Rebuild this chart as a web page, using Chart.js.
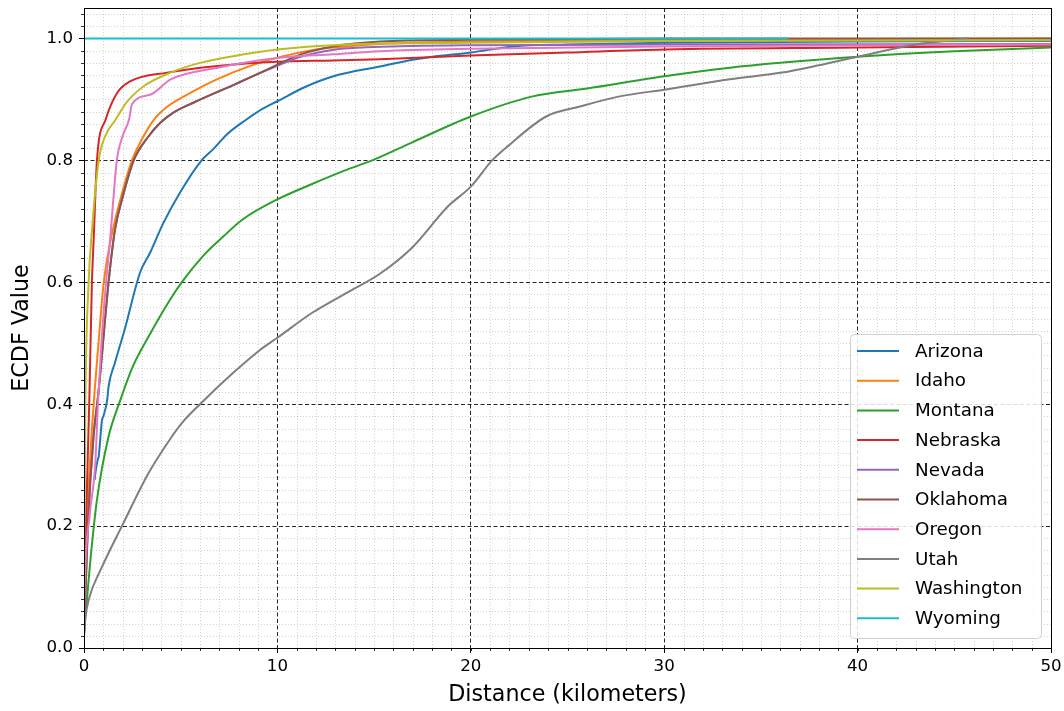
<!DOCTYPE html>
<html>
<head>
<meta charset="utf-8">
<script src="https://cdn.jsdelivr.net/npm/chart.js@4.4.0/dist/chart.umd.min.js"></script>
<style>
  html, body { margin: 0; padding: 0; background: #fff; }
</style>
</head>
<body>
<canvas id="ecdf" width="1064" height="711"></canvas>
<script>
// ECDF of distances per state
var states = ['Arizona', 'Idaho', 'Montana', 'Nebraska', 'Nevada', 'Oklahoma', 'Oregon', 'Utah', 'Washington', 'Wyoming'];
var colors = ['#1f77b4', '#ff7f0e', '#2ca02c', '#d62728', '#9467bd', '#8c564b', '#e377c2', '#7f7f7f', '#bcbd22', '#17becf'];

var arizonaX = [0.55, 0.6, 0.72, 0.76, 0.93, 1.0, 1.2, 1.27, 1.6, 2.1, 2.9, 3.41, 4.1, 4.96, 6.08, 6.67, 7.4, 8.4, 9.2, 10, 11.4, 12.9, 15.3, 17, 18, 20, 22.2, 25, 30, 40, 50];
var arizonaY = [0.276, 0.29, 0.31, 0.314, 0.374, 0.38, 0.407, 0.429, 0.468, 0.522, 0.616, 0.648, 0.697, 0.747, 0.80, 0.818, 0.843, 0.867, 0.884, 0.897, 0.92, 0.938, 0.954, 0.965, 0.97, 0.977, 0.987, 0.99, 0.993, 0.995, 0.996];

var idahoX = [0, 0.1, 0.3, 0.5, 0.75, 1.02, 1.45, 2.0, 2.48, 3.0, 3.62, 4.3, 5.17, 6.87, 8.6, 10.3, 12, 13.6, 16, 20, 30, 50];
var idahoY = [0.03, 0.15, 0.3, 0.4, 0.5, 0.6, 0.68, 0.75, 0.80, 0.835, 0.867, 0.888, 0.905, 0.933, 0.955, 0.971, 0.982, 0.987, 0.992, 0.995, 0.998, 1.0];

var montanaX = [0, 0.07, 0.33, 0.67, 1.27, 1.86, 2.5, 3.34, 4.44, 5.05, 6.15, 7.2, 8.2, 10, 11.7, 13.7, 14.9, 17, 20, 23.2, 26, 30, 33.4, 36, 40, 45, 50];
var montanaY = [0.02, 0.05, 0.144, 0.243, 0.347, 0.405, 0.46, 0.511, 0.571, 0.60, 0.643, 0.675, 0.703, 0.736, 0.76, 0.786, 0.80, 0.83, 0.872, 0.905, 0.918, 0.938, 0.952, 0.96, 0.97, 0.979, 0.985];

var nebraskaX = [0, 0.1, 0.27, 0.41, 0.5, 0.67, 1.12, 1.72, 2.41, 4.3, 6.9, 10, 12.9, 15.3, 20, 25, 30, 40, 50];
var nebraskaY = [0.02, 0.2, 0.4, 0.6, 0.67, 0.80, 0.867, 0.911, 0.93, 0.944, 0.955, 0.962, 0.964, 0.966, 0.972, 0.977, 0.982, 0.985, 0.988];

var nevadaX = [0, 0.2, 0.5, 0.75, 1.27, 1.6, 2.0, 2.57, 3.3, 3.96, 4.6, 5.68, 7.75, 9.46, 11.2, 13, 15, 20, 30, 50];
var nevadaY = [0.02, 0.2, 0.35, 0.42, 0.6, 0.686, 0.74, 0.80, 0.838, 0.862, 0.878, 0.895, 0.924, 0.948, 0.97, 0.982, 0.986, 0.989, 0.99, 0.991];

var oklahomaX = [0, 0.2, 0.5, 0.75, 1.27, 1.6, 2.0, 2.57, 3.3, 3.96, 4.6, 5.68, 7.75, 9.46, 11.2, 12.9, 15.3, 20, 30, 50];
var oklahomaY = [0.02, 0.2, 0.35, 0.42, 0.6, 0.686, 0.74, 0.80, 0.838, 0.862, 0.878, 0.895, 0.924, 0.949, 0.974, 0.987, 0.995, 0.998, 1.0, 1.0];

var oregonX = [0, 0.03, 0.3, 0.58, 0.72, 0.9, 1.14, 1.35, 1.7, 2.0, 2.33, 2.48, 3.45, 4.48, 6.9, 10, 12.9, 15.3, 20, 30, 50];
var oregonY = [0.05, 0.1, 0.22, 0.30, 0.40, 0.5, 0.6, 0.67, 0.80, 0.84, 0.867, 0.892, 0.908, 0.933, 0.952, 0.968, 0.974, 0.979, 0.983, 0.987, 0.99];

var utahX = [0, 0.07, 0.24, 0.93, 1.96, 3.34, 4.5, 5.06, 6, 7.7, 9.1, 10, 11.8, 13.6, 15.3, 17, 18.8, 20, 21.1, 21.9, 23.9, 25.6, 27.7, 30, 33.4, 36.1, 38, 40, 43, 45.7];
var utahY = [0.025, 0.05, 0.079, 0.133, 0.2, 0.287, 0.345, 0.369, 0.40, 0.451, 0.489, 0.509, 0.55, 0.583, 0.614, 0.658, 0.724, 0.757, 0.80, 0.823, 0.872, 0.888, 0.905, 0.916, 0.933, 0.944, 0.956, 0.97, 0.99, 1.0];

var washingtonX = [0, 0.07, 0.24, 0.4, 0.76, 1.1, 1.64, 2.2, 3.1, 4.48, 6, 8.27, 10, 12.9, 20, 30, 50];
var washingtonY = [0.1, 0.4, 0.6, 0.68, 0.80, 0.84, 0.867, 0.895, 0.922, 0.944, 0.96, 0.974, 0.982, 0.989, 0.993, 0.996, 0.997];

var wyomingX = [0, 36.4];
var wyomingY = [1.0, 1.0];

var seriesX = [arizonaX, idahoX, montanaX, nebraskaX, nevadaX, oklahomaX, oregonX, utahX, washingtonX, wyomingX];
var seriesY = [arizonaY, idahoY, montanaY, nebraskaY, nevadaY, oklahomaY, oregonY, utahY, washingtonY, wyomingY];

var xTickStep = 10, xMinorStep = 1;
var yTickStep = 0.2, yMinorStep = 0.02;

var FONT = '"DejaVu Sans", sans-serif';

var datasets = states.map(function(name, i) {
  return {
    label: name,
    data: seriesX[i].map(function(x, j) { return {x: x, y: seriesY[i][j]}; }),
    borderColor: colors[i],
    backgroundColor: colors[i],
    borderWidth: 2,
    pointRadius: 0,
    fill: false,
    cubicInterpolationMode: 'monotone',
    order: states.length - i   // later series on top, like matplotlib
  };
});

// minor grid + minor ticks, drawn under everything else
var minorGrid = {
  id: 'minorGrid',
  beforeDraw: function(chart) {
    var ctx = chart.ctx, a = chart.chartArea;
    var sx = chart.scales.x, sy = chart.scales.y;
    ctx.save();
    ctx.strokeStyle = 'rgba(0,0,0,0.22)';
    ctx.lineWidth = 0.8;
    ctx.setLineDash([1, 2]);
    ctx.beginPath();
    for (var v = sx.min; v <= sx.max + 1e-9; v += xMinorStep) {
      if (Math.abs(v / xTickStep - Math.round(v / xTickStep)) < 1e-6) continue;
      var px = Math.round(sx.getPixelForValue(v)) + 0.5;
      ctx.moveTo(px, a.top); ctx.lineTo(px, a.bottom);
    }
    for (var k = 1; k * yMinorStep <= sy.max + 1e-9; k++) {
      var w = k * yMinorStep;
      if (Math.abs(w / yTickStep - Math.round(w / yTickStep)) < 1e-6) continue;
      var py = Math.round(sy.getPixelForValue(w)) + 0.5;
      ctx.moveTo(a.left, py); ctx.lineTo(a.right, py);
    }
    ctx.stroke();
    // minor tick marks outside the frame
    ctx.setLineDash([]);
    ctx.strokeStyle = '#000';
    ctx.lineWidth = 0.8;
    ctx.beginPath();
    for (var v2 = sx.min; v2 <= sx.max + 1e-9; v2 += xMinorStep) {
      var qx = Math.round(sx.getPixelForValue(v2)) + 0.5;
      ctx.moveTo(qx, a.bottom); ctx.lineTo(qx, a.bottom + 3);
    }
    for (var k2 = 0; k2 * yMinorStep <= sy.max + 1e-9; k2++) {
      var qy = Math.round(sy.getPixelForValue(k2 * yMinorStep)) + 0.5;
      ctx.moveTo(a.left, qy); ctx.lineTo(a.left - 3, qy);
    }
    ctx.stroke();
    ctx.restore();
  }
};

// axes frame and the in-plot legend
var frameLegend = {
  id: 'frameLegend',
  afterDraw: function(chart) {
    var ctx = chart.ctx, a = chart.chartArea;
    ctx.save();
    ctx.strokeStyle = '#000';
    ctx.lineWidth = 1;
    ctx.strokeRect(Math.round(a.left) + 0.5, Math.round(a.top) + 0.5,
                   Math.round(a.right - a.left), Math.round(a.bottom - a.top));

    var bw = 191, bh = 304;
    var bx = a.right - 10 - bw, by = a.bottom - 10 - bh;
    ctx.beginPath();
    ctx.roundRect(bx + 0.5, by + 0.5, bw, bh, 4);
    ctx.fillStyle = 'rgba(255,255,255,0.85)';
    ctx.fill();
    ctx.strokeStyle = '#d0d0d0';
    ctx.stroke();

    ctx.font = '18.3px ' + FONT;
    ctx.textBaseline = 'middle';
    ctx.textAlign = 'left';
    var step = 29.7;
    chart.data.datasets.forEach(function(ds, i) {
      var cy = by + 17 + i * step;
      ctx.strokeStyle = ds.borderColor;
      ctx.lineWidth = 2;
      ctx.beginPath();
      ctx.moveTo(bx + 7, cy); ctx.lineTo(bx + 49, cy);
      ctx.stroke();
      ctx.fillStyle = '#000';
      ctx.fillText(ds.label, bx + 65, cy + 1);
    });
    ctx.restore();
  }
};

var ctx = document.getElementById('ecdf');
var chart = new Chart(ctx, {
  type: 'line',
  data: { datasets: datasets },
  options: {
    responsive: false,
    animation: false,
    devicePixelRatio: 1,
    layout: { padding: 0 },
    plugins: {
      legend: { display: false },
      tooltip: { enabled: false }
    },
    scales: {
      x: {
        type: 'linear',
        min: 0,
        max: 50,
        ticks: {
          stepSize: xTickStep,
          color: '#000',
          font: { family: FONT, size: 16.67 },
          padding: 4,
          maxRotation: 0
        },
        grid: { color: 'rgba(0,0,0,0.85)', lineWidth: 1, tickLength: 5, tickColor: '#000' },
        border: { display: false, dash: [4, 2.5] },
        title: {
          display: true,
          text: 'Distance (kilometers)',
          color: '#000',
          font: { family: FONT, size: 22.2 },
          padding: { top: 4, bottom: 2 }
        },
        afterFit: function(s) {
          s.height = 63;
          s.paddingLeft = 0;
          s.paddingRight = 13;
        }
      },
      y: {
        type: 'linear',
        min: 0,
        max: 1.05,
        ticks: {
          stepSize: yTickStep,
          includeBounds: false,
          color: '#000',
          font: { family: FONT, size: 16.67 },
          padding: 6,
          callback: function(v) { return v.toFixed(1); }
        },
        grid: { color: 'rgba(0,0,0,0.85)', lineWidth: 1, tickLength: 5, tickColor: '#000' },
        border: { display: false, dash: [4, 2.5] },
        title: {
          display: true,
          text: 'ECDF Value',
          color: '#000',
          font: { family: FONT, size: 22.2 },
          padding: { top: 9, bottom: 4 }
        },
        afterFit: function(s) {
          s.width = 84;
          s.paddingTop = 8;
          s.paddingBottom = 0;
        }
      }
    }
  },
  plugins: [minorGrid, frameLegend]
});
</script>
</body>
</html>
